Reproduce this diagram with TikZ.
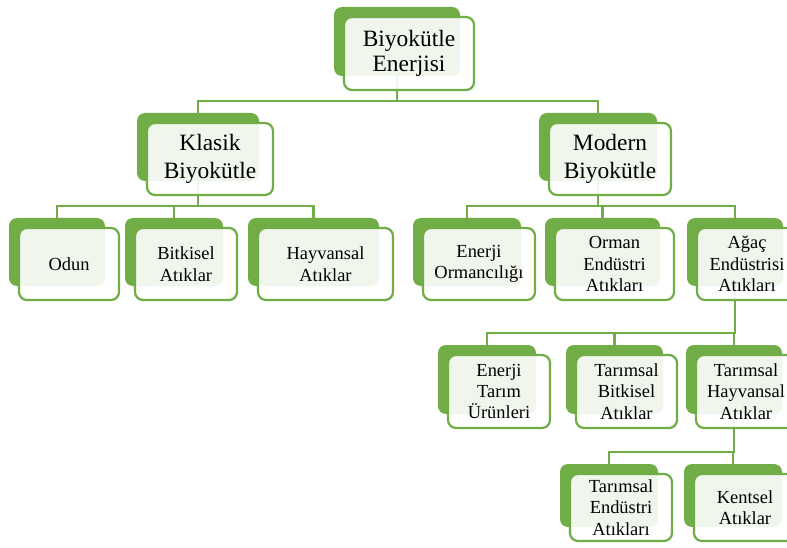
\documentclass[tikz,border=0pt]{standalone}
\usepackage{fontspec}
\setmainfont{Liberation Serif}
\usepackage{tikz}
\usetikzlibrary{backgrounds}
\definecolor{bio-green}{HTML}{70AD47}
\tikzset{
  backbox/.style={fill=bio-green, rounded corners=8bp, inner sep=0pt},
  frontbox/.style={draw=bio-green, line width=2.2bp, fill=white, fill opacity=0.9,
    text opacity=1, rounded corners=8bp, inner sep=0pt, align=center},
  bigtext/.style={font=\fontsize{23.5}{25}\selectfont},
  midtext/.style={font=\fontsize{23.5}{27.5}\selectfont},
  smalltext/.style={font=\fontsize{18.5}{21.5}\selectfont},
  link/.style={draw=bio-green, line width=2.5bp},
}
% #1 name, #2--#5 front box corners (x1,y1,x2,y2), #6 text style, #7 label
\newcommand{\bioitem}[7]{%
  \node[backbox, minimum width={(#4-#2-4)*1bp}, minimum height={(#5-#3-4)*1bp}]
    (#1B) at ({(#2+#4)/2-12},{(#3+#5)/2-12}) {};
  \node[frontbox, #6, minimum width={(#4-#2)*1bp}, minimum height={(#5-#3)*1bp}]
    (#1F) at ({(#2+#4)/2},{(#3+#5)/2}) {#7};
}

\begin{document}
\begin{tikzpicture}[x=1bp,y=-1bp]
  \useasboundingbox (0,0) rectangle (787,548);
  \clip (0,0) rectangle (787,548);

  % top
  \bioitem{root}{344}{17}{474}{90}{bigtext}{Biyokütle\\Enerjisi}
  \bioitem{klasik}{147}{123}{273}{195}{midtext}{Klasik\\Biyokütle}
  \bioitem{modern}{549}{123}{671}{195}{midtext}{Modern\\Biyokütle}

  % second row
  \bioitem{odun}{19}{228}{119}{300}{smalltext}{Odun}
  \bioitem{bitkisel}{135}{228}{237}{300}{smalltext}{Bitkisel\\Atıklar}
  \bioitem{hayvansal}{258}{228}{393}{300}{smalltext}{Hayvansal\\Atıklar}
  \bioitem{enerjiorm}{423}{228}{535}{300}{smalltext}{Enerji\\Ormancılığı}
  \bioitem{orman}{555}{228}{674}{300}{smalltext}{Orman\\Endüstri\\Atıkları}
  \bioitem{agac}{697}{228}{797}{300}{smalltext}{Ağaç\\Endüstrisi\\Atıkları}

  % third row
  \bioitem{enerjitarim}{448}{355}{550}{428}{smalltext}{Enerji\\Tarım\\Ürünleri}
  \bioitem{tbitkisel}{576}{355}{677}{428}{smalltext}{Tarımsal\\Bitkisel\\Atıklar}
  \bioitem{thayvansal}{696}{355}{796}{428}{smalltext}{Tarımsal\\Hayvansal\\Atıklar}

  % last row
  \bioitem{tendustri}{570}{474}{672}{541}{smalltext}{Tarımsal\\Endüstri\\Atıkları}
  \bioitem{kentsel}{694}{474}{796}{541}{smalltext}{Kentsel\\Atıklar}

  \begin{scope}[on background layer]
    \fill[white] (0,0) rectangle (787,548);
    \foreach \kid in {klasik,modern}
      \draw[link] (rootB.south) |- ([yshift=12bp]\kid B.north) -- (\kid B.north);
    \foreach \kid in {odun,bitkisel,hayvansal}
      \draw[link] (klasikB.south) |- ([yshift=12bp]\kid B.north) -- (\kid B.north);
    \foreach \kid in {enerjiorm,orman,agac}
      \draw[link] (modernB.south) |- ([yshift=12bp]\kid B.north) -- (\kid B.north);
    \foreach \kid in {enerjitarim,tbitkisel,thayvansal}
      \draw[link] (agacB.south) |- ([yshift=12bp]\kid B.north) -- (\kid B.north);
    \foreach \kid in {tendustri,kentsel}
      \draw[link] (thayvansalB.south) |- ([yshift=12bp]\kid B.north) -- (\kid B.north);
  \end{scope}
\end{tikzpicture}
\end{document}
